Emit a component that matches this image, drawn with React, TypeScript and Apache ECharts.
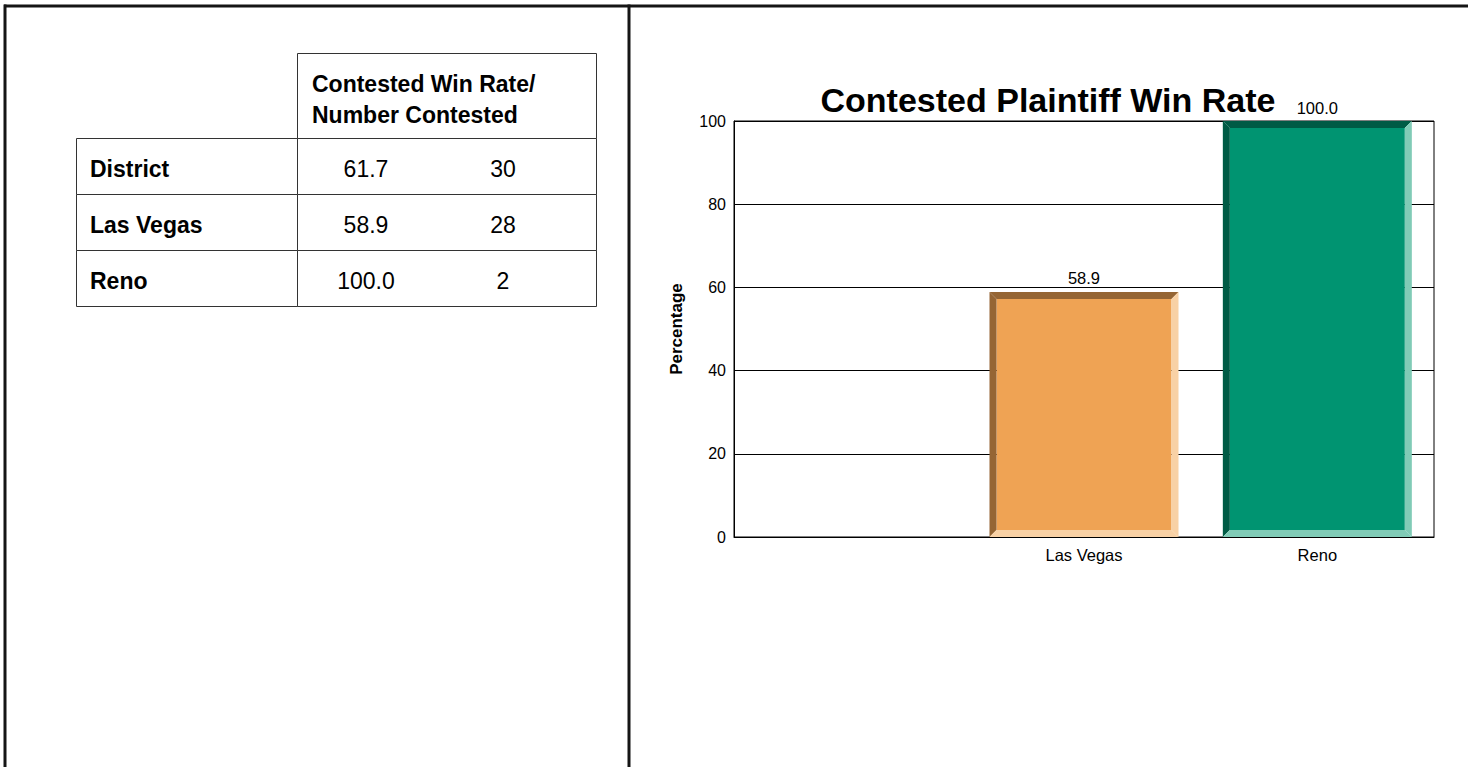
import React, { useEffect, useRef } from "react";
import * as echarts from "echarts";

// ---- Data ----
const tableRows = ["District", "Las Vegas", "Reno"];
const tableWinRates = [61.7, 58.9, 100.0];
const tableCounts = [30, 28, 2];
const tableHeader = ["Contested Win Rate/", "Number Contested"];

const chartTitle = "Contested Plaintiff Win Rate";
const chartCategories = ["", "Las Vegas", "Reno"];
const chartValues: (number | null)[] = [null, 58.9, 100.0];
const yTicks = [0, 20, 40, 60, 80, 100];
const yAxisName = "Percentage";

// ---- Styles ----
const FONT = "Arial, 'Liberation Sans', sans-serif";
const faceColors = ["#EFA354", "#EFA354", "#009471"];
const darkColors = ["#956534", "#956534", "#005B45"];
const lightColors = ["#F8D1A5", "#F8D1A5", "#80CBB6"];

function buildTableGraphics() {
  const els: any[] = [];
  const stroke = "#333333";
  const left = 76.5;
  const mid = 297.5;
  const right = 596.5;
  const headerTop = 53.5;
  const rowTops = [138.5, 194.5, 250.5];
  const rowH = 56;
  els.push({
    type: "rect",
    shape: { x: mid, y: headerTop, width: right - mid, height: rowTops[0] - headerTop },
    style: { fill: "#fff", stroke, lineWidth: 1 },
  });
  tableHeader.forEach((t, i) => {
    els.push({
      type: "text",
      style: {
        text: t,
        x: 312,
        y: 83.5 + i * 31,
        align: "left",
        verticalAlign: "middle",
        fontSize: 23,
        fontWeight: "bold",
        fontFamily: FONT,
        fill: "#000",
      },
    });
  });
  tableRows.forEach((name, i) => {
    const top = rowTops[i];
    els.push({
      type: "rect",
      shape: { x: left, y: top, width: mid - left, height: rowH },
      style: { fill: "#fff", stroke, lineWidth: 1 },
    });
    els.push({
      type: "rect",
      shape: { x: mid, y: top, width: right - mid, height: rowH },
      style: { fill: "#fff", stroke, lineWidth: 1 },
    });
    const cy = top + rowH / 2 + 2;
    els.push({
      type: "text",
      style: {
        text: name, x: 90, y: cy, align: "left", verticalAlign: "middle",
        fontSize: 23, fontWeight: "bold", fontFamily: FONT, fill: "#000",
      },
    });
    els.push({
      type: "text",
      style: {
        text: tableWinRates[i].toFixed(1), x: 366, y: cy, align: "center", verticalAlign: "middle",
        fontSize: 23, fontFamily: FONT, fill: "#000",
      },
    });
    els.push({
      type: "text",
      style: {
        text: String(tableCounts[i]), x: 503, y: cy, align: "center", verticalAlign: "middle",
        fontSize: 23, fontFamily: FONT, fill: "#000",
      },
    });
  });
  return els;
}

function buildFrame() {
  const c = "#151515";
  return [
    { type: "line", shape: { x1: 4, y1: 6, x2: 1468, y2: 6 }, style: { stroke: c, lineWidth: 3 } },
    { type: "line", shape: { x1: 5, y1: 4.5, x2: 5, y2: 767 }, style: { stroke: c, lineWidth: 3 } },
    { type: "line", shape: { x1: 629, y1: 4.5, x2: 629, y2: 767 }, style: { stroke: c, lineWidth: 3 } },
  ];
}

export default function App() {
  const ref = useRef<HTMLDivElement>(null);
  useEffect(() => {
    if (!ref.current) return;
    const chart = echarts.init(ref.current, undefined, { renderer: "svg" });
    const barData = chartValues
      .map((v, i) => (v == null ? null : [i, v]))
      .filter((d) => d != null);
    chart.setOption({
      animation: false,
      backgroundColor: "#fff",
      grid: {
        left: 734,
        right: 34,
        top: 121,
        bottom: 230,
        show: true,
        borderColor: "#000",
        borderWidth: 1,
        backgroundColor: "transparent",
      },
      xAxis: {
        type: "category",
        data: chartCategories,
        axisTick: { show: false },
        axisLine: { lineStyle: { color: "#000", width: 1 } },
        axisLabel: { color: "#000", fontSize: 16.5, fontFamily: FONT, margin: 9 },
      },
      yAxis: {
        type: "value",
        min: yTicks[0],
        max: yTicks[yTicks.length - 1],
        interval: yTicks[1] - yTicks[0],
        name: yAxisName,
        nameLocation: "middle",
        nameGap: 49,
        nameTextStyle: { color: "#000", fontSize: 17, fontWeight: "bold", fontFamily: FONT },
        axisLine: { show: true, lineStyle: { color: "#000", width: 1 } },
        axisTick: { show: false },
        splitLine: { lineStyle: { color: "#000", width: 1 } },
        axisLabel: { color: "#000", fontSize: 16, fontFamily: FONT, margin: 8 },
      },
      series: [
        {
          type: "custom",
          data: barData,
          encode: { x: 0, y: 1 },
          z: 3,
          renderItem: (params: any, api: any) => {
            const idx = api.value(0);
            const val = api.value(1);
            const base = api.coord([idx, 0]);
            const top = api.coord([idx, val]);
            const bw = api.size([1, 0])[0] * 0.81;
            const x0 = base[0] - bw / 2;
            const x1 = base[0] + bw / 2;
            const y0 = top[1];
            const y1 = base[1];
            const b = 7;
            return {
              type: "group",
              children: [
                {
                  type: "rect",
                  shape: { x: x0 + b, y: y0 + b, width: bw - 2 * b, height: y1 - y0 - 2 * b },
                  style: { fill: faceColors[idx] },
                },
                {
                  type: "polygon",
                  shape: { points: [[x0, y0], [x1, y0], [x1 - b, y0 + b], [x0 + b, y0 + b]] },
                  style: { fill: darkColors[idx] },
                },
                {
                  type: "polygon",
                  shape: { points: [[x0, y0], [x0 + b, y0 + b], [x0 + b, y1 - b], [x0, y1]] },
                  style: { fill: darkColors[idx] },
                },
                {
                  type: "polygon",
                  shape: { points: [[x1, y0], [x1, y1], [x1 - b, y1 - b], [x1 - b, y0 + b]] },
                  style: { fill: lightColors[idx] },
                },
                {
                  type: "polygon",
                  shape: { points: [[x0, y1], [x0 + b, y1 - b], [x1 - b, y1 - b], [x1, y1]] },
                  style: { fill: lightColors[idx] },
                },
                {
                  type: "text",
                  style: {
                    text: Number(val).toFixed(1),
                    x: base[0],
                    y: y0 - 5,
                    align: "center",
                    verticalAlign: "bottom",
                    fontSize: 16.5,
                    fontFamily: FONT,
                    fill: "#000",
                  },
                },
              ],
            };
          },
        },
      ],
      graphic: {
        elements: [
          ...buildFrame(),
          ...buildTableGraphics(),
          {
            type: "text",
            style: {
              text: chartTitle,
              x: 1048,
              y: 100,
              align: "center",
              verticalAlign: "middle",
              fontSize: 34,
              fontWeight: "bold",
              fontFamily: FONT,
              fill: "#000",
            },
          },
        ],
      },
    });
    return () => chart.dispose();
  }, []);
  return (
    <div
      ref={ref}
      style={{ position: "absolute", left: 0, top: 0, width: 1468, height: 767 }}
    />
  );
}
